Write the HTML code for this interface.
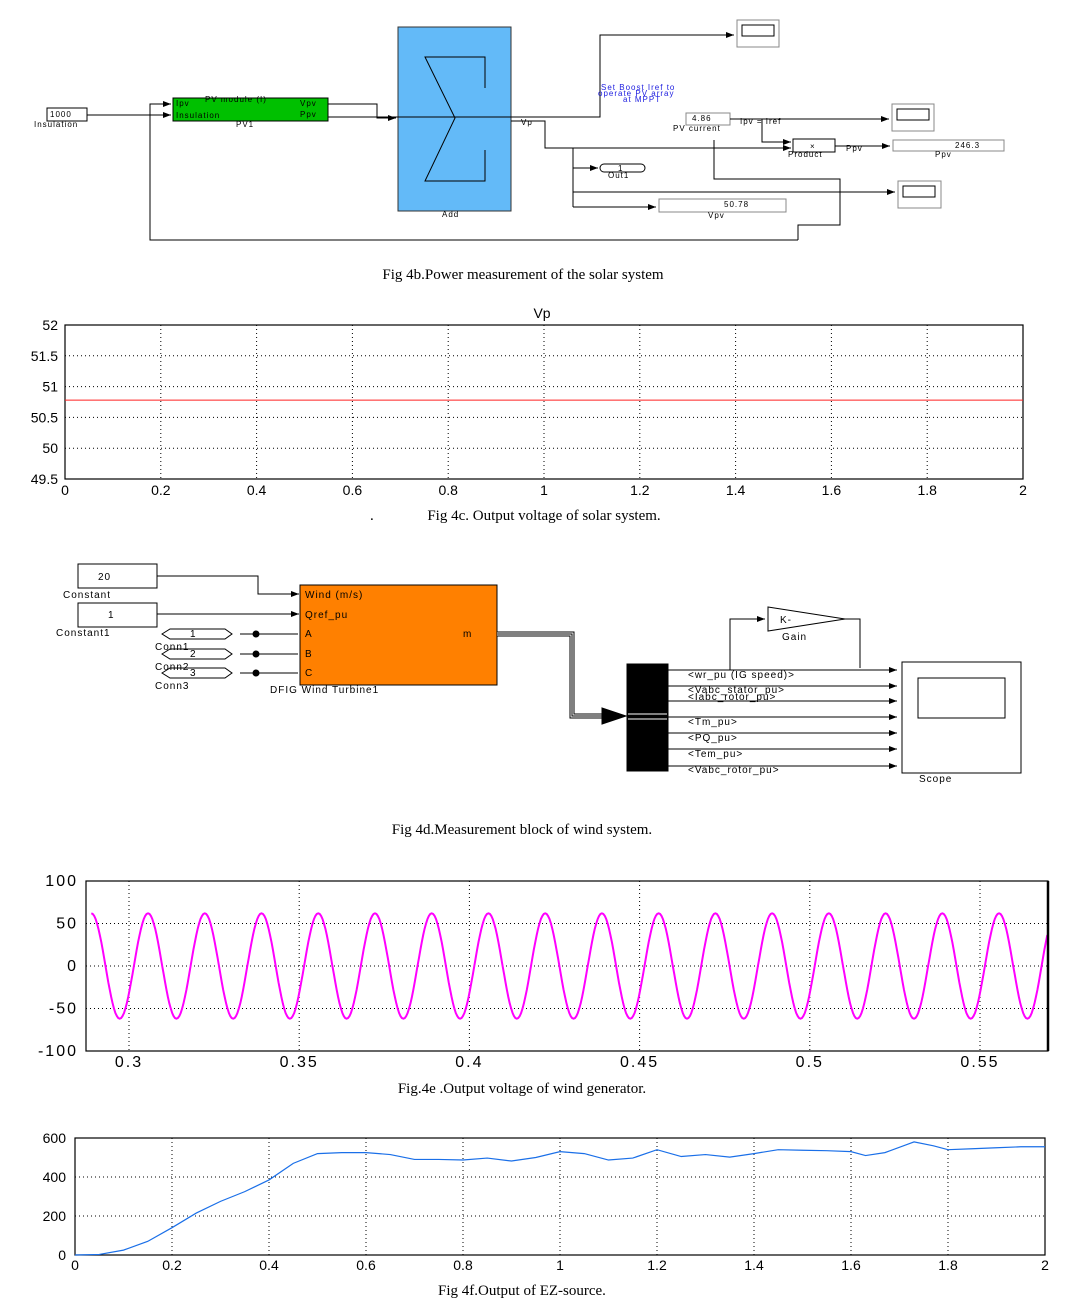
<!DOCTYPE html>
<html><head><meta charset="utf-8"><style>
body{margin:0;background:#fff}
svg{display:block}
.d{font-family:"Liberation Sans",sans-serif;font-size:8px;letter-spacing:1px}
.cap{font-family:"Liberation Serif",serif;font-size:15px}
.tk{font-family:"Liberation Sans",sans-serif;font-size:14px}
.tk2{font-family:"Liberation Sans",sans-serif;font-size:16px;letter-spacing:2px}
</style></head><body>
<svg id="s" width="1068" height="1298" viewBox="0 0 1068 1298" xmlns="http://www.w3.org/2000/svg">
<defs><marker id="ar" markerWidth="8" markerHeight="6" refX="8" refY="3" orient="auto"><path d="M0,0L8,3L0,6z" fill="#000"/></marker></defs>

<g fill="none" stroke="#000" stroke-width="1">
<rect x="47" y="108" width="40" height="13"/>
<path d="M87,115H171" marker-end="url(#ar)"/>
<path d="M798,240V225H840V179H714V140" />
<path d="M798,240H150V104H171" marker-end="url(#ar)"/>
<rect x="173" y="98" width="155" height="23" fill="#00c000"/>
<path d="M328,104H377V118H396" marker-end="url(#ar)"/>
<rect x="398" y="27" width="113" height="184" fill="#63baf8" stroke="#333"/>
<path d="M485,88V57H425L455,118L425,181H485V150"/>
<path d="M328,117H600V35H734" marker-end="url(#ar)"/>
<rect x="737" y="20" width="42" height="27" fill="#fff" stroke="#888"/><rect x="742" y="25" width="32" height="11"/>
<path d="M511,121H545V148H791" marker-end="url(#ar)"/>
<rect x="686" y="113" width="44" height="12" stroke="#888"/>
<path d="M730,119H889" marker-end="url(#ar)"/>
<rect x="892" y="104" width="42" height="27" stroke="#888"/><rect x="897" y="109" width="32" height="11"/>
<path d="M762,119V142H791" marker-end="url(#ar)"/>
<rect x="793" y="139" width="42" height="13"/>
<path d="M835,146H890" marker-end="url(#ar)"/>
<rect x="893" y="140" width="111" height="11" stroke="#888"/>
<path d="M573,148V207"/>
<path d="M573,168H598" marker-end="url(#ar)"/>
<rect x="600" y="164" width="45" height="8" rx="4"/>
<path d="M573,192H895" marker-end="url(#ar)"/>
<rect x="898" y="181" width="43" height="27" stroke="#888"/><rect x="903" y="186" width="32" height="11"/>
<path d="M573,207H656" marker-end="url(#ar)"/>
<rect x="659" y="199" width="127" height="13" stroke="#888"/>
</g>
<g class="d">
<text x="50" y="117">1000</text><text x="34" y="127">Insulation</text>
<text x="176" y="106">Ipv</text><text x="176" y="118">Insulation</text><text x="205" y="102">PV module (I)</text>
<text x="300" y="106">Vpv</text><text x="300" y="117">Ppv</text><text x="236" y="127">PV1</text>
<text x="442" y="217">Add</text><text x="521" y="125">Vp</text>
<text x="601" y="90" fill="#2020e0">Set Boost Iref to</text><text x="598" y="96" fill="#2020e0">operate PV array</text><text x="623" y="102" fill="#2020e0">at MPPT</text>
<text x="692" y="121">4.86</text><text x="673" y="131">PV current</text><text x="740" y="124">Ipv = Iref</text>
<text x="810" y="149">×</text><text x="788" y="157">Product</text><text x="846" y="151">Ppv</text>
<text x="955" y="148">246.3</text><text x="935" y="157">Ppv</text>
<text x="618" y="171">1</text><text x="608" y="178">Out1</text>
<text x="724" y="207">50.78</text><text x="708" y="218">Vpv</text>
</g>
<text class="cap" x="523" y="279" text-anchor="middle">Fig 4b.Power measurement of the solar system</text>

<g id="c1"></g>
<text class="tk" x="542" y="318" text-anchor="middle">Vp</text>
<text class="cap" x="370" y="520">.</text>
<text class="cap" x="544" y="520" text-anchor="middle">Fig 4c. Output voltage of solar system.</text>

<g fill="none" stroke="#000" stroke-width="1">
<rect x="78" y="564" width="79" height="24"/>
<path d="M157,576H258V594H299" marker-end="url(#ar)"/>
<rect x="78" y="603" width="79" height="24"/>
<path d="M157,614H299" marker-end="url(#ar)"/>
<path d="M162,634L170,629H225L232,634L225,639H170Z"/>
<path d="M162,654L170,649H225L232,654L225,659H170Z"/>
<path d="M162,673L170,668H225L232,673L225,678H170Z"/>
<path d="M240,634H298"/><path d="M240,654H298"/><path d="M240,673H298"/>
<circle cx="256" cy="634" r="3" fill="#000"/><circle cx="256" cy="654" r="3" fill="#000"/><circle cx="256" cy="673" r="3" fill="#000"/>
<rect x="300" y="585" width="197" height="100" fill="#ff8000"/>
<path d="M497,634H572V716H612" stroke-width="5"/>
<path d="M497,634H572V716H612" stroke="#fff" stroke-width="3"/>
<path d="M497,634H572V716H612" stroke-width="1"/>
<path d="M600,716L625,716" stroke-width="1" marker-end="url(#ar)"/>
<polygon points="602,708 626,716 602,724" fill="#000"/>
<rect x="627" y="664" width="41" height="107" fill="#000"/>
<path d="M628,714H667M628,719H667" stroke="#fff"/>
<path d="M668,670H897" marker-end="url(#ar)"/>
<path d="M668,686H897" marker-end="url(#ar)"/>
<path d="M668,701H897" marker-end="url(#ar)"/>
<path d="M668,717H897" marker-end="url(#ar)"/>
<path d="M668,733H897" marker-end="url(#ar)"/>
<path d="M668,749H897" marker-end="url(#ar)"/>
<path d="M668,766H897" marker-end="url(#ar)"/>
<path d="M730,670V619H765" marker-end="url(#ar)"/>
<path d="M768,607L845,619L768,631Z"/>
<path d="M845,619H860V668"/>
<rect x="902" y="662" width="119" height="111"/>
<rect x="918" y="678" width="87" height="40"/>
</g>
<g class="d" style="font-size:10px">
<text x="98" y="580">20</text><text x="63" y="598">Constant</text>
<text x="108" y="618">1</text><text x="56" y="636">Constant1</text>
<text x="190" y="637">1</text><text x="155" y="650">Conn1</text>
<text x="190" y="657">2</text><text x="155" y="670">Conn2</text>
<text x="190" y="676">3</text><text x="155" y="689">Conn3</text>
<text x="305" y="598">Wind (m/s)</text><text x="305" y="618">Qref_pu</text>
<text x="305" y="637">A</text><text x="305" y="657">B</text><text x="305" y="676">C</text>
<text x="463" y="637">m</text><text x="270" y="693">DFIG Wind Turbine1</text>
<text x="780" y="623">K-</text><text x="782" y="640">Gain</text>
<text x="688" y="678">&lt;wr_pu (IG speed)&gt;</text>
<text x="688" y="693">&lt;Vabc_stator_pu&gt;</text>
<text x="688" y="700">&lt;Iabc_rotor_pu&gt;</text>
<text x="688" y="725">&lt;Tm_pu&gt;</text>
<text x="688" y="741">&lt;PQ_pu&gt;</text>
<text x="688" y="757">&lt;Tem_pu&gt;</text>
<text x="688" y="773">&lt;Vabc_rotor_pu&gt;</text>
<text x="919" y="782">Scope</text>
</g>
<text class="cap" x="522" y="834" text-anchor="middle">Fig 4d.Measurement block of wind system.</text>

<g id="c2"></g>
<text class="cap" x="522" y="1093" text-anchor="middle">Fig.4e .Output voltage of wind generator.</text>

<g id="c3"></g>
<text class="cap" x="522" y="1295" text-anchor="middle">Fig 4f.Output of EZ-source.</text>
</svg>
<script>
// Chart 4c data
const vpXTicks = [0,0.2,0.4,0.6,0.8,1,1.2,1.4,1.6,1.8,2];
const vpYTicks = [49.5,50,50.5,51,51.5,52];
const vpTimes = [0, 2];
const vpValues = [50.78, 50.78];
// Chart 4e data
const wXTicks = [0.3,0.35,0.4,0.45,0.5,0.55];
const wYTicks = [-100,-50,0,50,100];
const wFreqHz = [60];
const wCycleAmps = [62,62,62,62,62,62,62,62,62,62,62,62,62,62,62,62,62,62];
const wFirstPeak = [0.3056];
// Chart 4f data
const ezXTicks = [0,0.2,0.4,0.6,0.8,1,1.2,1.4,1.6,1.8,2];
const ezYTicks = [0,200,400,600];
const ezTimes = [0,0.05,0.1,0.15,0.2,0.25,0.3,0.35,0.4,0.45,0.5,0.55,0.6,0.65,0.7,0.75,0.8,0.85,0.9,0.95,1.0,1.05,1.1,1.15,1.2,1.25,1.3,1.35,1.4,1.45,1.5,1.55,1.6,1.63,1.67,1.73,1.77,1.8,1.85,1.9,1.95,2.0];
const ezValues = [0,3,25,70,140,215,275,325,385,470,520,525,525,515,490,490,487,497,482,500,530,520,487,497,540,505,515,502,520,540,537,535,530,510,525,580,560,540,545,550,555,555];

const NS='http://www.w3.org/2000/svg';
function mk(parent,tag,attrs,txt){const e=document.createElementNS(NS,tag);for(const k in attrs)e.setAttribute(k,attrs[k]);if(txt!==undefined)e.textContent=txt;parent.appendChild(e);return e;}
function lin(d0,d1,r0,r1){return v=>r0+(v-d0)*(r1-r0)/(d1-d0);}

function frame(g,L,T,R,B,sx,sy,xt,yt,cls,xly,ylx,fmt){
  xt.forEach(v=>{const x=sx(v);
    const l=mk(g,'line',{x1:x,x2:x,y1:T,y2:B,stroke:'#000','stroke-dasharray':'1,3','stroke-width':1});
    
    
    const t=mk(g,'text',{x:x,y:xly,'text-anchor':'middle',class:cls},fmt(v));
    
    
  });
  yt.forEach(v=>{const y=sy(v);
    const l=mk(g,'line',{x1:L,x2:R,y1:y,y2:y,stroke:'#000','stroke-dasharray':'1,3','stroke-width':1});
    
    
    const t=mk(g,'text',{x:ylx,y:y+5,'text-anchor':'end',class:cls},fmt(v));
    
    
  });
  const r=mk(g,'rect',{x:L,y:T,width:R-L,height:B-T,fill:'none',stroke:'#000','stroke-width':1.2});
  
  
}
const f=v=>String(v);

// 4c
(function(){const g=document.getElementById('c1');
  const L=65,R=1023,T=325,B=479;const sx=lin(0,2,L,R),sy=lin(49.5,52,B,T);
  frame(g,L,T,R,B,sx,sy,vpXTicks,vpYTicks,'tk',495,58,f);
  const p=mk(g,'polyline',{points:vpTimes.map((t,i)=>sx(t)+','+sy(vpValues[i])).join(' '),fill:'none',stroke:'#ff2020','stroke-width':1});
  
  
})();

// 4e
(function(){const g=document.getElementById('c2');
  const L=86,R=1048,T=881,B=1051;const x0=0.3-(129-86)/3404,x1=0.3+(1048-129)/3404;
  const sx=lin(x0,x1,L,R),sy=lin(-100,100,B,T);
  frame(g,L,T,R,B,sx,sy,wXTicks,wYTicks,'tk2',1067,78,f);
  const per=1/wFreqHz[0];const pts=[];
  wCycleAmps.forEach((a,i)=>{for(let k=0;k<=40;k++){const ph=k/40;const t=wFirstPeak[0]-per+(i+ph)*per;
    if(t<x0||t>x1)continue;pts.push(sx(t).toFixed(1)+','+sy(a*Math.cos(2*Math.PI*ph)).toFixed(1));}});
  const p=mk(g,'polyline',{points:pts.join(' '),fill:'none',stroke:'#ff00ff','stroke-width':2});
  
  
  mk(g,'line',{x1:R,x2:R,y1:T,y2:B,stroke:'#000','stroke-width':2.5});
})();

// 4f
(function(){const g=document.getElementById('c3');
  const L=75,R=1045,T=1138,B=1255;const sx=lin(0,2,L,R),sy=lin(0,600,B,T);
  frame(g,L,T,R,B,sx,sy,ezXTicks,ezYTicks,'tk',1270,66,f);
  const p=mk(g,'polyline',{points:ezTimes.map((t,i)=>sx(t)+','+sy(ezValues[i])).join(' '),fill:'none',stroke:'#1a6fe8','stroke-width':1.2});
  
  
})();
</script>
</body></html>
